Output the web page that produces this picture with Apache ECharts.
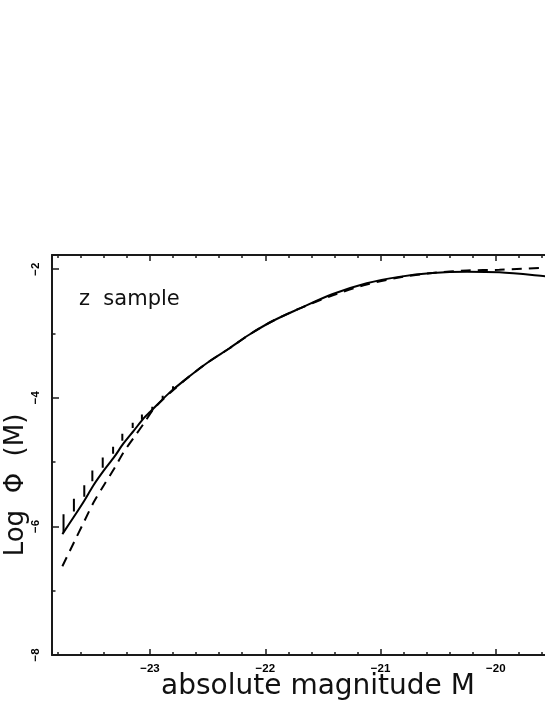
<!DOCTYPE html>
<html>
<head>
<meta charset="utf-8">
<script src="https://cdn.jsdelivr.net/npm/echarts@6/dist/echarts.min.js"></script>
<style>
html,body{margin:0;padding:0;background:#fff;}
#chart{width:545px;height:705px;}
</style>
</head>
<body>
<div id="chart"></div>
<script>
// Solid curve (absolute magnitude M, log Phi)
var solidM = [-23.76, -23.66, -23.57, -23.49, -23.40, -23.31, -23.23, -23.14, -23.05, -23.00, -22.83, -22.66, -22.49, -22.31, -22.14, -21.94, -21.70, -21.42, -21.12, -20.84, -20.55, -20.25, -19.97, -19.57, -19.40];
var solidLogPhi = [-6.12, -5.85, -5.60, -5.36, -5.13, -4.92, -4.71, -4.51, -4.31, -4.22, -3.92, -3.67, -3.44, -3.23, -3.02, -2.81, -2.61, -2.39, -2.22, -2.12, -2.06, -2.04, -2.05, -2.11, -2.14];

// Dashed curve
var dashedM = [-23.76, -23.66, -23.57, -23.49, -23.40, -23.31, -23.23, -23.14, -23.05, -22.97, -22.83, -22.66, -22.49, -22.31, -22.14, -21.94, -21.70, -21.42, -21.12, -20.84, -20.55, -20.25, -19.97, -19.57, -19.40];
var dashedLogPhi = [-6.62, -6.25, -5.92, -5.63, -5.36, -5.10, -4.85, -4.62, -4.39, -4.18, -3.93, -3.67, -3.44, -3.23, -3.02, -2.81, -2.61, -2.41, -2.24, -2.13, -2.06, -2.02, -2.01, -1.98, -1.975];

// Short vertical marks (low / high log Phi at each M)
var tickM = [-23.75, -23.66, -23.57, -23.50, -23.41, -23.32, -23.24, -23.15, -23.07, -22.98, -22.89, -22.80];
var tickLow = [-6.09, -5.77, -5.54, -5.30, -5.09, -4.87, -4.67, -4.47, -4.34, -4.20, -4.02, -3.87];
var tickHigh = [-5.81, -5.57, -5.36, -5.13, -4.93, -4.76, -4.56, -4.39, -4.26, -4.14, -3.97, -3.82];

// Axis ranges and labels
var xMin = -23.85, xMax = -19.40;
var yMin = -8, yMax = -1.78;
var xTickLabels = [-23, -22, -21, -20];
var yTickLabels = [-8, -6, -4, -2];

var xTitle = 'absolute magnitude M';
var yTitle = 'Log  \u03A6  (M)';
var panelLabel = 'z  sample';

function zip(a, b) { return a.map(function (v, i) { return [v, b[i]]; }); }
var tickData = [];
tickM.forEach(function (m, i) {
  tickData.push([m, tickLow[i]]);
  tickData.push([m, tickHigh[i]]);
  tickData.push([m, null]);
});

function fmtX(v) {
  var r = Math.round(v);
  if (Math.abs(v - r) > 1e-6 || xTickLabels.indexOf(r) < 0) return '';
  return String(r).replace('-', '\u2212');
}
function fmtY(v) {
  var r = Math.round(v);
  if (Math.abs(v - r) > 1e-6 || yTickLabels.indexOf(r) < 0) return '';
  return String(r).replace('-', '\u2212');
}

var axisColor = '#1a1a1a';
var labelFont = { color: '#000', fontFamily: 'Liberation Sans', fontWeight: 'bold', fontSize: 11.5 };

var xCommon = {
  type: 'value', min: xMin, max: xMax, splitNumber: 5,
  axisLine: { show: true, lineStyle: { color: axisColor, width: 2 } },
  axisTick: { show: true, inside: true, length: 6, lineStyle: { color: axisColor, width: 1.5 } },
  minorTick: { show: true, splitNumber: 5, length: 3, lineStyle: { color: axisColor, width: 1.5 } },
  splitLine: { show: false }, minorSplitLine: { show: false }
};

var chart = echarts.init(document.getElementById('chart'), null, { renderer: 'canvas' });
chart.setOption({
  animation: false,
  backgroundColor: '#fff',
  grid: { left: 52, top: 255, width: 513, height: 400, containLabel: false, outerBoundsMode: 'none' },
  xAxis: [
    Object.assign({}, xCommon, {
      position: 'bottom',
      axisLabel: Object.assign({ show: true, margin: 8, formatter: fmtX, showMinLabel: true, showMaxLabel: true }, labelFont)
    }),
    Object.assign({}, xCommon, {
      position: 'top',
      axisLabel: { show: false }
    })
  ],
  yAxis: [{
    type: 'value', min: yMin, max: yMax, interval: 2, position: 'left',
    axisLine: { show: true, lineStyle: { color: axisColor, width: 2 } },
    axisTick: { show: true, inside: true, length: 7, lineStyle: { color: axisColor, width: 1.5 } },
    minorTick: { show: true, splitNumber: 2, length: 3.5, lineStyle: { color: axisColor, width: 1.5 } },
    splitLine: { show: false }, minorSplitLine: { show: false },
    axisLabel: Object.assign({ show: true, rotate: 90, margin: 10, formatter: fmtY }, labelFont)
  }],
  graphic: [
    { type: 'text', x: 79, y: 300,
      style: { text: panelLabel, fill: '#111', font: '21px "DejaVu Sans"', textVerticalAlign: 'middle', verticalAlign: 'middle' } },
    { type: 'text', x: 318, y: 687,
      style: { text: xTitle, fill: '#111', font: '28px "DejaVu Sans"', align: 'center', verticalAlign: 'middle', textAlign: 'center', textVerticalAlign: 'middle' } },
    { type: 'text', x: 16, y: 485, rotation: Math.PI / 2,
      style: { text: yTitle, fill: '#111', font: '26px "DejaVu Sans"', align: 'center', verticalAlign: 'middle', textAlign: 'center', textVerticalAlign: 'middle' } }
  ],
  series: [
    { name: 'solid', type: 'line', xAxisIndex: 0, yAxisIndex: 0, data: zip(solidM, solidLogPhi),
      smooth: 0.3, showSymbol: false, symbol: 'none', clip: true,
      lineStyle: { color: '#000', width: 2, type: 'solid' } },
    { name: 'dashed', type: 'line', xAxisIndex: 0, yAxisIndex: 0, data: zip(dashedM, dashedLogPhi),
      smooth: 0.3, showSymbol: false, symbol: 'none', clip: true,
      lineStyle: { color: '#000', width: 2, type: [10, 7] } },
    { name: 'marks', type: 'line', xAxisIndex: 0, yAxisIndex: 0, data: tickData,
      connectNulls: false, showSymbol: false, symbol: 'none', clip: true,
      lineStyle: { color: '#000', width: 2 } }
  ]
});
</script>
</body>
</html>
